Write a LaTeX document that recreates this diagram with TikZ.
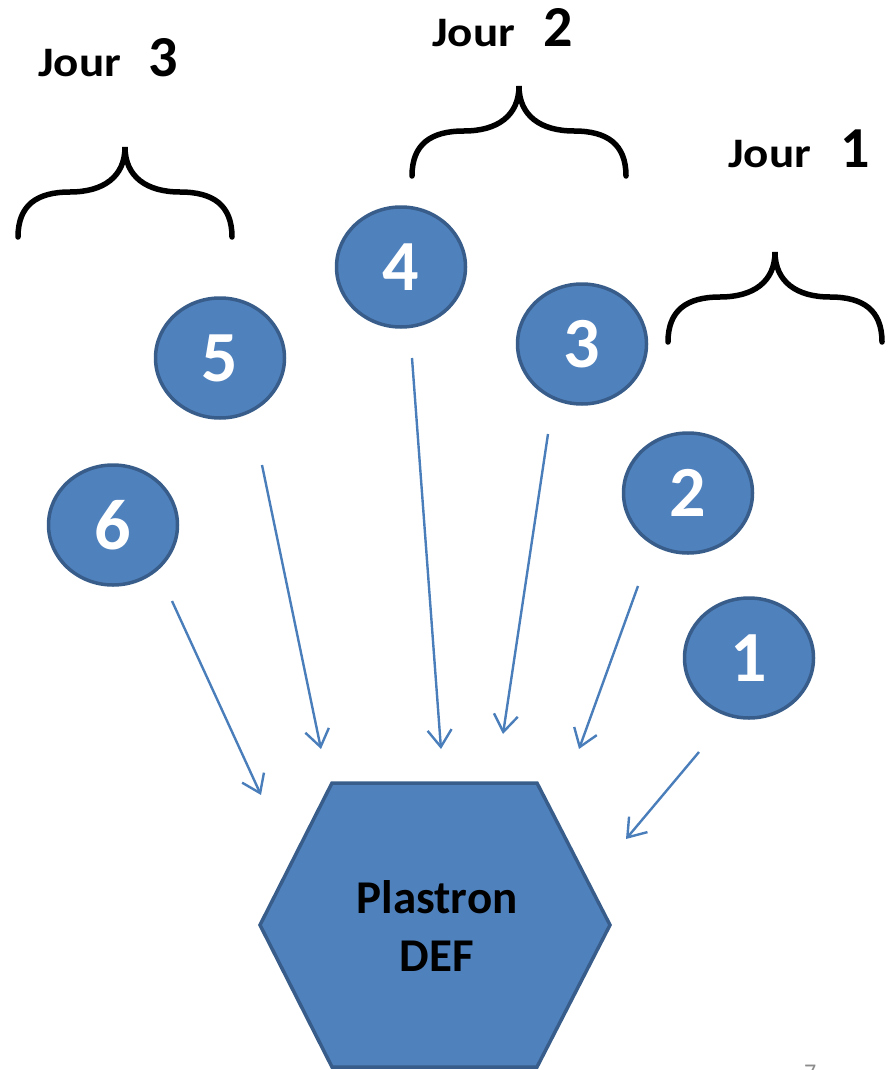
\documentclass[tikz,border=0pt]{standalone}
\usepackage{fontspec}
\setmainfont{Carlito}
\newfontfamily\widecarlito[FakeStretch=1.12]{Carlito}
\usetikzlibrary{shapes.geometric,arrows.meta}
\definecolor{stepfill}{HTML}{4F81BD}
\definecolor{stepline}{HTML}{385D8A}
\definecolor{flowline}{HTML}{4A7EBB}
\definecolor{pagegray}{HTML}{8C8C8C}
\tikzset{
  stepdisc/.style={ellipse, draw=stepline, fill=stepfill, line width=3.5pt,
    minimum width=129pt, minimum height=120pt, inner sep=0pt,
    text=white, font=\bfseries\fontsize{72}{80}\selectfont},
  flow/.style={draw=flowline, line width=2.4pt,
    -{Straight Barb[length=17pt,width=24pt,line width=2.4pt]}},
  bracket/.style={draw=black, line width=5.5pt, line cap=round},
  daylabel/.style={anchor=base west, inner sep=0pt, font=\widecarlito\bfseries\fontsize{42}{48}\selectfont},
  daynum/.style={anchor=base west, inner sep=0pt, font=\bfseries\fontsize{58}{64}\selectfont},
}
\begin{document}
\begin{tikzpicture}[x=1pt,y=-1pt]
\useasboundingbox (0,0) rectangle (892,1070);

% day headings
\node[daylabel] (j3) at (38,77) {Jour};
\node[daynum] (n3) at (148,77) {3};
\node[daylabel] (j2) at (432,47) {Jour};
\node[daynum] (n2) at (543,47) {2};
\node[daylabel] (j1) at (728,167) {Jour};
\node[daynum] (n1) at (840,167) {1};

% curly brackets grouping the steps of each day
\foreach \px/\py in {125/147, 519/86, 775/252}{
  \draw[bracket] (\px-107,\py+90)
    .. controls (\px-107,\py+58) and (\px-88,\py+45) .. (\px-55,\py+45)
    .. controls (\px-22,\py+45) and (\px,\py+30) .. (\px,\py)
    .. controls (\px,\py+30) and (\px+22,\py+45) .. (\px+55,\py+45)
    .. controls (\px+88,\py+45) and (\px+107,\py+58) .. (\px+107,\py+90);
}

% numbered steps
\node[stepdisc] (c1) at (749,658) {1};
\node[stepdisc] (c2) at (688,493) {2};
\node[stepdisc] (c3) at (582,344) {3};
\node[stepdisc] (c4) at (401,267) {4};
\node[stepdisc] (c5) at (220,358) {5};
\node[stepdisc] (c6) at (113,525) {6};

% target hexagon
\draw[draw=stepline, fill=stepfill, line width=3.5pt, line join=miter]
  (332,783) -- (537,783) -- (610,925) -- (537,1067) -- (332,1067) -- (260,925) -- cycle;
\node[align=center, inner sep=0pt, font=\bfseries\fontsize{47}{58}\selectfont] (def) at (437,926) {Plastron\\DEF};

% arrow end points
\coordinate (s1) at (699,752);  \coordinate (e1) at (626,839);
\coordinate (s2) at (638,586);  \coordinate (e2) at (579,749);
\coordinate (s3) at (548,434);  \coordinate (e3) at (503,734);
\coordinate (s4) at (412,358);  \coordinate (e4) at (441,749);
\coordinate (s5) at (262,465);  \coordinate (e5) at (321,749);
\coordinate (s6) at (172,601);  \coordinate (e6) at (261,795);
\foreach \k in {1,...,6}{ \draw[flow] (s\k) -- (e\k); }

% page number, partly below the lower edge
\node[anchor=base west, inner sep=0pt, text=pagegray, font=\fontsize{24}{28}\selectfont] (pg) at (804,1080) {7};
\end{tikzpicture}
\end{document}
